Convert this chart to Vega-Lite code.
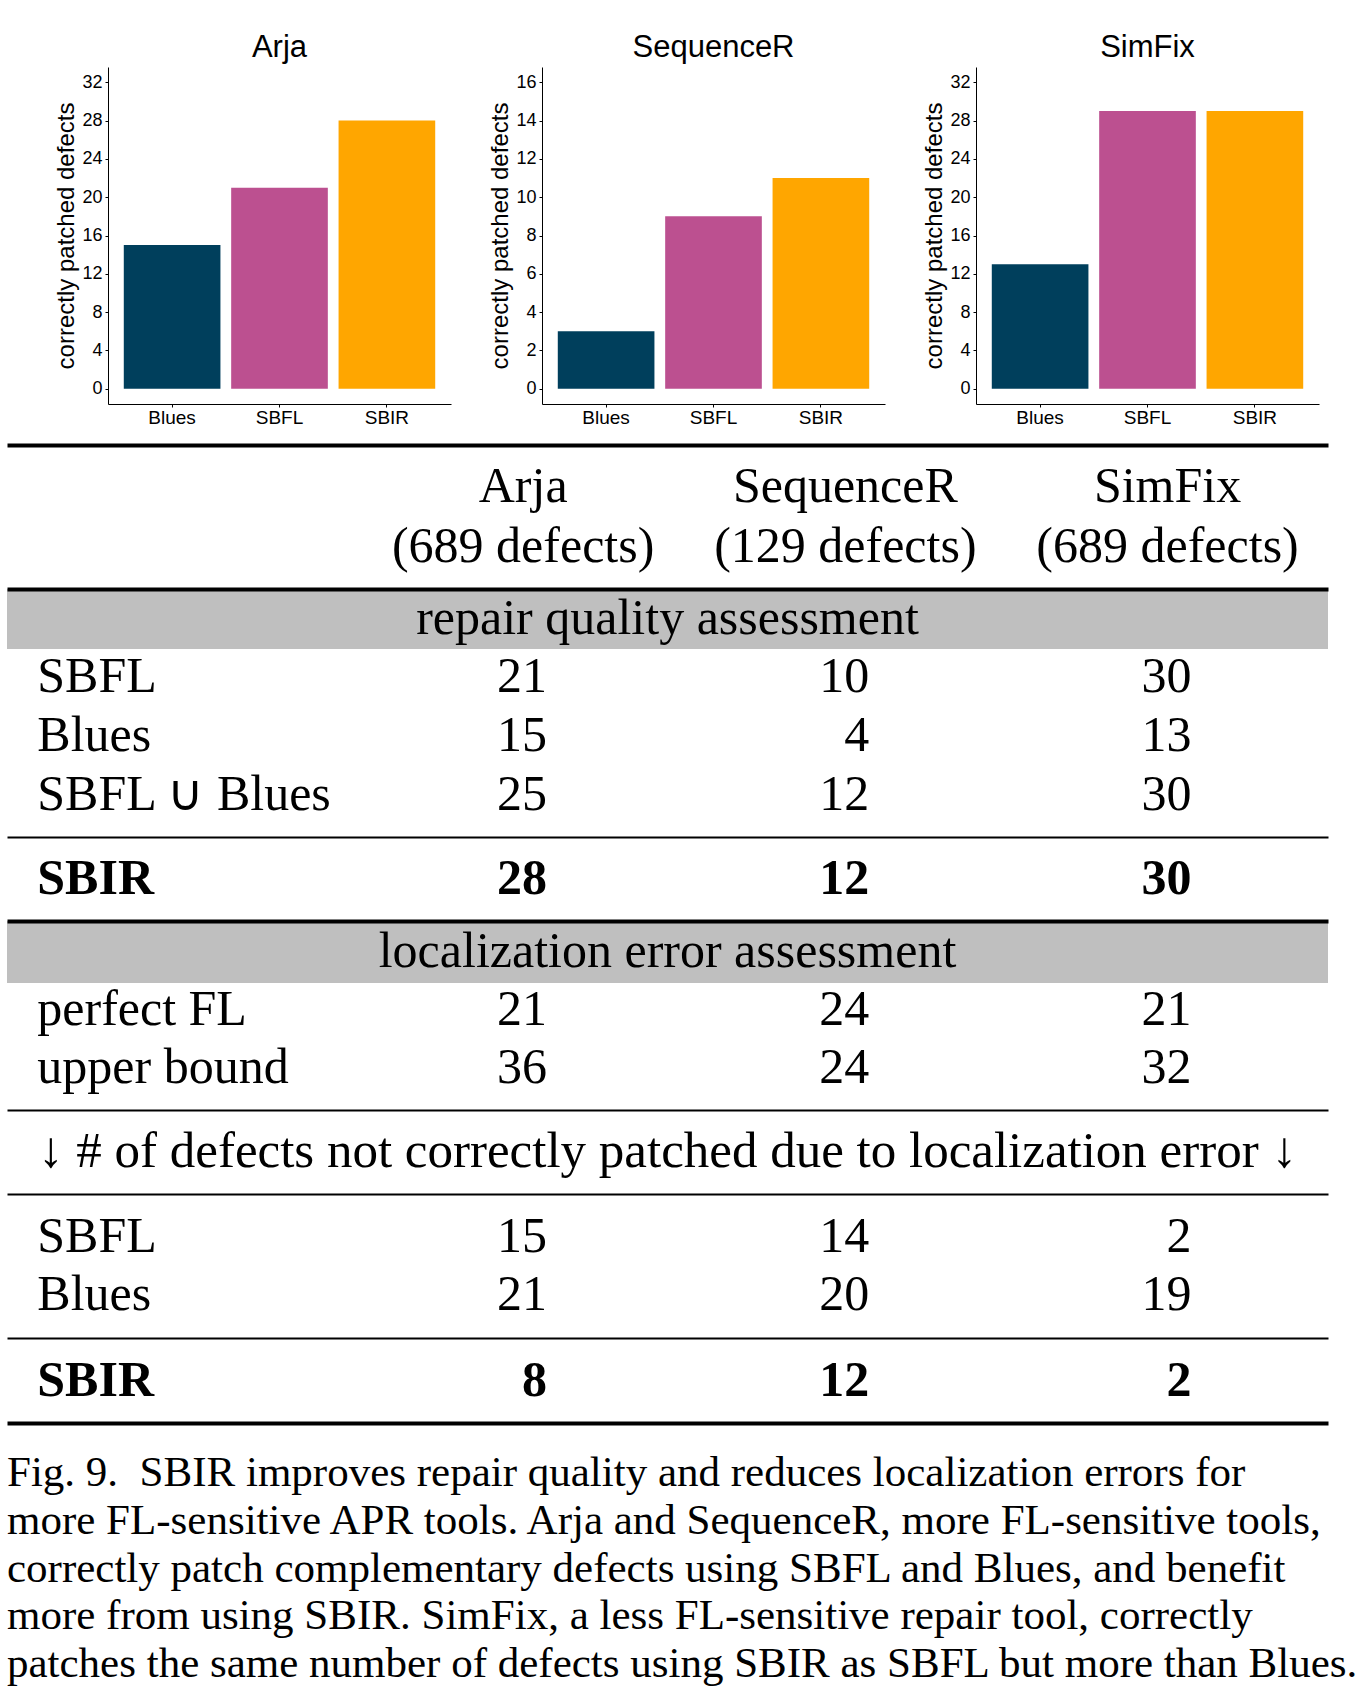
{
  "$schema": "https://vega.github.io/schema/vega-lite/v6.json",
  "background": "white",
  "padding": {"left": 7, "top": 31, "right": 0, "bottom": 0},
  "spacing": 18,
  "config": {
    "view": {"stroke": null},
    "font": "Liberation Sans",
    "axis": {
      "domainColor": "black", "domainWidth": 1, "tickColor": "black", "tickSize": 3, "tickWidth": 1,
      "labelColor": "black", "labelFont": "Liberation Sans", "labelFontSize": 18, "labelPadding": 3,
      "titleFont": "Liberation Sans", "titleFontSize": 24, "titleFontWeight": "normal", "titleColor": "black",
      "titlePadding": 3, "grid": false
    },
    "axisX": {"labelPadding": 1, "labelFontSize": 19}
  },
  "datasets": {
    "bars": [
      {"tool": "Arja", "fl": "Blues", "n": 15}, {"tool": "Arja", "fl": "SBFL", "n": 21}, {"tool": "Arja", "fl": "SBIR", "n": 28},
      {"tool": "SequenceR", "fl": "Blues", "n": 3}, {"tool": "SequenceR", "fl": "SBFL", "n": 9}, {"tool": "SequenceR", "fl": "SBIR", "n": 11},
      {"tool": "SimFix", "fl": "Blues", "n": 13}, {"tool": "SimFix", "fl": "SBFL", "n": 29}, {"tool": "SimFix", "fl": "SBIR", "n": 29}
    ],
    "headers": [
      {"tool": "Arja", "line": "name", "text": "Arja"}, {"tool": "Arja", "line": "size", "text": "(689 defects)"},
      {"tool": "SequenceR", "line": "name", "text": "SequenceR"}, {"tool": "SequenceR", "line": "size", "text": "(129 defects)"},
      {"tool": "SimFix", "line": "name", "text": "SimFix"}, {"tool": "SimFix", "line": "size", "text": "(689 defects)"}
    ],
    "sections": [
      {"sec": "repair", "title": "repair quality assessment"},
      {"sec": "loc", "title": "localization error assessment"},
      {"sec": "loss", "title": "\u2193 # of defects not correctly patched due to localization error \u2193"}
    ],
    "table": [
      {"sec": "repair", "row": "SBFL", "Arja": 21, "SequenceR": 10, "SimFix": 30},
      {"sec": "repair", "row": "Blues", "Arja": 15, "SequenceR": 4, "SimFix": 13},
      {"sec": "repair", "row": "SBFL \u222a Blues", "Arja": 25, "SequenceR": 12, "SimFix": 30},
      {"sec": "repair-best", "row": "SBIR", "Arja": 28, "SequenceR": 12, "SimFix": 30},
      {"sec": "loc", "row": "perfect FL", "Arja": 21, "SequenceR": 24, "SimFix": 21},
      {"sec": "loc", "row": "upper bound", "Arja": 36, "SequenceR": 24, "SimFix": 32},
      {"sec": "loss", "row": "SBFL", "Arja": 15, "SequenceR": 14, "SimFix": 2},
      {"sec": "loss", "row": "Blues", "Arja": 21, "SequenceR": 20, "SimFix": 19},
      {"sec": "loss-best", "row": "SBIR", "Arja": 8, "SequenceR": 12, "SimFix": 2}
    ],
    "caption": [
      {"line": 1, "text": "Fig. 9.\u00a0 SBIR improves repair quality and reduces localization errors for"},
      {"line": 2, "text": "more FL-sensitive APR tools. Arja and SequenceR, more FL-sensitive tools,"},
      {"line": 3, "text": "correctly patch complementary defects using SBFL and Blues, and benefit"},
      {"line": 4, "text": "more from using SBIR. SimFix, a less FL-sensitive repair tool, correctly"},
      {"line": 5, "text": "patches the same number of defects using SBIR as SBFL but more than Blues."}
    ]
  },
  "vconcat": [
    {
      "bounds": "flush",
      "spacing": 91,
      "hconcat": [
        {
          "width": 10, "height": 337,
          "data": {"values": [{}]},
          "mark": {"type": "text"},
          "encoding": {"text": {"value": ""}}
        },
        {
          "width": 343, "height": 337,
          "title": {"text": "Arja", "frame": "group", "anchor": "middle", "offset": -20.5, "baseline": "alphabetic", "fontSize": 31, "fontWeight": "normal", "font": "Liberation Sans", "color": "black"},
          "data": {"name": "bars"},
          "transform": [{"filter": "datum.tool == 'Arja'"}],
          "mark": {"type": "bar"},
          "encoding": {
            "x": {"field": "fl", "type": "nominal", "scale": {"type": "band", "domain": ["Blues", "SBFL", "SBIR"], "paddingInner": 0.1, "paddingOuter": 0.147}, "axis": {"title": null, "labelAngle": 0}},
            "y": {"field": "n", "type": "quantitative", "scale": {"domain": [-1.6, 33.6], "nice": false, "zero": false}, "axis": {"values": [0, 4, 8, 12, 16, 20, 24, 28, 32], "title": "correctly patched defects"}},
            "y2": {"datum": 0},
            "color": {"field": "fl", "type": "nominal", "scale": {"domain": ["Blues", "SBFL", "SBIR"], "range": ["#003f5c", "#bc5090", "#ffa600"]}, "legend": null}
          }
        },
        {
          "width": 343, "height": 337,
          "title": {"text": "SequenceR", "frame": "group", "anchor": "middle", "offset": -20.5, "baseline": "alphabetic", "fontSize": 31, "fontWeight": "normal", "font": "Liberation Sans", "color": "black"},
          "data": {"name": "bars"},
          "transform": [{"filter": "datum.tool == 'SequenceR'"}],
          "mark": {"type": "bar"},
          "encoding": {
            "x": {"field": "fl", "type": "nominal", "scale": {"type": "band", "domain": ["Blues", "SBFL", "SBIR"], "paddingInner": 0.1, "paddingOuter": 0.147}, "axis": {"title": null, "labelAngle": 0}},
            "y": {"field": "n", "type": "quantitative", "scale": {"domain": [-0.8, 16.8], "nice": false, "zero": false}, "axis": {"values": [0, 2, 4, 6, 8, 10, 12, 14, 16], "title": "correctly patched defects"}},
            "y2": {"datum": 0},
            "color": {"field": "fl", "type": "nominal", "scale": {"domain": ["Blues", "SBFL", "SBIR"], "range": ["#003f5c", "#bc5090", "#ffa600"]}, "legend": null}
          }
        },
        {
          "width": 343, "height": 337,
          "title": {"text": "SimFix", "frame": "group", "anchor": "middle", "offset": -20.5, "baseline": "alphabetic", "fontSize": 31, "fontWeight": "normal", "font": "Liberation Sans", "color": "black"},
          "data": {"name": "bars"},
          "transform": [{"filter": "datum.tool == 'SimFix'"}],
          "mark": {"type": "bar"},
          "encoding": {
            "x": {"field": "fl", "type": "nominal", "scale": {"type": "band", "domain": ["Blues", "SBFL", "SBIR"], "paddingInner": 0.1, "paddingOuter": 0.147}, "axis": {"title": null, "labelAngle": 0}},
            "y": {"field": "n", "type": "quantitative", "scale": {"domain": [-1.6, 33.6], "nice": false, "zero": false}, "axis": {"values": [0, 4, 8, 12, 16, 20, 24, 28, 32], "title": "correctly patched defects"}},
            "y2": {"datum": 0},
            "color": {"field": "fl", "type": "nominal", "scale": {"domain": ["Blues", "SBFL", "SBIR"], "range": ["#003f5c", "#bc5090", "#ffa600"]}, "legend": null}
          }
        }
      ]
    },
    {
      "bounds": "flush",
      "spacing": 0,
      "vconcat": [
        {
          "width": 1321, "height": 144,
          "data": {"name": "headers"},
          "mark": {"type": "text", "font": "Liberation Serif", "fontSize": 50, "baseline": "middle", "align": "center", "color": "black"},
          "encoding": {
            "x": {"field": "tool", "type": "nominal", "bandPosition": 0.508,
                  "scale": {"type": "band", "domain": ["label", "Arja", "SequenceR", "SimFix"], "paddingInner": 0, "paddingOuter": 0.05, "align": 0.94},
                  "axis": {"orient": "top", "domain": true, "domainWidth": 4, "domainColor": "black", "ticks": false, "labels": false, "grid": false, "title": null}},
            "y": {"field": "line", "type": "nominal", "scale": {"type": "point", "domain": ["name", "size"], "padding": 0.72, "align": 0.5}, "axis": null},
            "text": {"field": "text"}
          }
        },
        {
          "width": 1321, "height": 60,
          "view": {"fill": "#bfbfbf"},
          "data": {"name": "sections"},
          "transform": [{"filter": "datum.sec == 'repair'"}],
          "mark": {"type": "text", "font": "Liberation Serif", "fontSize": 50, "baseline": "middle", "align": "center", "color": "black"},
          "encoding": {
            "x": {"field": "sec", "type": "nominal", "scale": {"type": "point", "align": 0.5},
                  "axis": {"orient": "top", "domain": true, "domainWidth": 4, "domainColor": "black", "ticks": false, "labels": false, "grid": false, "title": null}},
            "text": {"field": "title"}
          }
        },
        {
          "width": 1321, "height": 188,
          "data": {"name": "table"},
          "transform": [{"filter": "datum.sec == 'repair'"}],
          "encoding": {
            "y": {"field": "row", "type": "nominal", "scale": {"type": "point", "domain": ["SBFL", "Blues", "SBFL \u222a Blues"], "padding": 0.593, "align": 0.4}, "axis": null}
          },
          "layer": [
            {
              "mark": {"type": "text", "font": "Liberation Serif", "fontSize": 50, "baseline": "middle", "align": "left", "color": "black"},
              "encoding": {
                "x": {"datum": "label", "type": "nominal", "bandPosition": 0,
                      "scale": {"type": "band", "domain": ["label", "Arja", "SequenceR", "SimFix"], "paddingInner": 0, "paddingOuter": 0.05, "align": 0.94},
                      "axis": {"orient": "bottom", "domain": true, "domainWidth": 2, "domainColor": "black", "ticks": false, "labels": false, "grid": false, "title": null}},
                "text": {"field": "row"}
              }
            },
            {
              "transform": [{"fold": ["Arja", "SequenceR", "SimFix"], "as": ["tool", "n"]}],
              "mark": {"type": "text", "font": "Liberation Serif", "fontSize": 50, "baseline": "middle", "align": "right", "color": "black"},
              "encoding": {
                "x": {"field": "tool", "type": "nominal", "bandPosition": 0.582,
                      "scale": {"type": "band", "domain": ["label", "Arja", "SequenceR", "SimFix"], "paddingInner": 0, "paddingOuter": 0.05, "align": 0.94},
                      "axis": {"orient": "bottom", "domain": true, "domainWidth": 2, "domainColor": "black", "ticks": false, "labels": false, "grid": false, "title": null}},
                "text": {"field": "n"}
              }
            }
          ]
        },
        {
          "width": 1321, "height": 84,
          "data": {"name": "table"},
          "transform": [{"filter": "datum.sec == 'repair-best'"}],
          "layer": [
            {
              "mark": {"type": "text", "font": "Liberation Serif", "fontSize": 50, "fontWeight": "bold", "baseline": "middle", "align": "left", "color": "black"},
              "encoding": {
                "x": {"datum": "label", "type": "nominal", "bandPosition": 0,
                      "scale": {"type": "band", "domain": ["label", "Arja", "SequenceR", "SimFix"], "paddingInner": 0, "paddingOuter": 0.05, "align": 0.94},
                      "axis": null},
                "text": {"field": "row"}
              }
            },
            {
              "transform": [{"fold": ["Arja", "SequenceR", "SimFix"], "as": ["tool", "n"]}],
              "mark": {"type": "text", "font": "Liberation Serif", "fontSize": 50, "fontWeight": "bold", "baseline": "middle", "align": "right", "color": "black"},
              "encoding": {
                "x": {"field": "tool", "type": "nominal", "bandPosition": 0.582,
                      "scale": {"type": "band", "domain": ["label", "Arja", "SequenceR", "SimFix"], "paddingInner": 0, "paddingOuter": 0.05, "align": 0.94},
                      "axis": null},
                "text": {"field": "n"}
              }
            }
          ]
        },
        {
          "width": 1321, "height": 62,
          "view": {"fill": "#bfbfbf"},
          "data": {"name": "sections"},
          "transform": [{"filter": "datum.sec == 'loc'"}],
          "mark": {"type": "text", "font": "Liberation Serif", "fontSize": 50, "baseline": "middle", "align": "center", "color": "black"},
          "encoding": {
            "x": {"field": "sec", "type": "nominal", "scale": {"type": "point", "align": 0.5},
                  "axis": {"orient": "top", "domain": true, "domainWidth": 4, "domainColor": "black", "ticks": false, "labels": false, "grid": false, "title": null}},
            "text": {"field": "title"}
          }
        },
        {
          "width": 1321, "height": 127,
          "data": {"name": "table"},
          "transform": [{"filter": "datum.sec == 'loc'"}],
          "encoding": {
            "y": {"field": "row", "type": "nominal", "scale": {"type": "point", "domain": ["perfect FL", "upper bound"], "padding": 0.584, "align": 0.39}, "axis": null}
          },
          "layer": [
            {
              "mark": {"type": "text", "font": "Liberation Serif", "fontSize": 50, "baseline": "middle", "align": "left", "color": "black"},
              "encoding": {
                "x": {"datum": "label", "type": "nominal", "bandPosition": 0,
                      "scale": {"type": "band", "domain": ["label", "Arja", "SequenceR", "SimFix"], "paddingInner": 0, "paddingOuter": 0.05, "align": 0.94},
                      "axis": {"orient": "bottom", "domain": true, "domainWidth": 2, "domainColor": "black", "ticks": false, "labels": false, "grid": false, "title": null}},
                "text": {"field": "row"}
              }
            },
            {
              "transform": [{"fold": ["Arja", "SequenceR", "SimFix"], "as": ["tool", "n"]}],
              "mark": {"type": "text", "font": "Liberation Serif", "fontSize": 50, "baseline": "middle", "align": "right", "color": "black"},
              "encoding": {
                "x": {"field": "tool", "type": "nominal", "bandPosition": 0.582,
                      "scale": {"type": "band", "domain": ["label", "Arja", "SequenceR", "SimFix"], "paddingInner": 0, "paddingOuter": 0.05, "align": 0.94},
                      "axis": {"orient": "bottom", "domain": true, "domainWidth": 2, "domainColor": "black", "ticks": false, "labels": false, "grid": false, "title": null}},
                "text": {"field": "n"}
              }
            }
          ]
        },
        {
          "width": 1321, "height": 84,
          "data": {"name": "sections"},
          "transform": [{"filter": "datum.sec == 'loss'"}],
          "mark": {"type": "text", "font": "Liberation Serif", "fontSize": 51, "baseline": "middle", "align": "center", "color": "black"},
          "encoding": {
            "x": {"field": "sec", "type": "nominal", "scale": {"type": "point", "align": 0.5},
                  "axis": {"orient": "bottom", "domain": true, "domainWidth": 2, "domainColor": "black", "ticks": false, "labels": false, "grid": false, "title": null}},
            "text": {"field": "title"}
          }
        },
        {
          "width": 1321, "height": 144,
          "data": {"name": "table"},
          "transform": [{"filter": "datum.sec == 'loss'"}],
          "encoding": {
            "y": {"field": "row", "type": "nominal", "scale": {"type": "point", "domain": ["SBFL", "Blues"], "padding": 0.73, "align": 0.5}, "axis": null}
          },
          "layer": [
            {
              "mark": {"type": "text", "font": "Liberation Serif", "fontSize": 50, "baseline": "middle", "align": "left", "color": "black"},
              "encoding": {
                "x": {"datum": "label", "type": "nominal", "bandPosition": 0,
                      "scale": {"type": "band", "domain": ["label", "Arja", "SequenceR", "SimFix"], "paddingInner": 0, "paddingOuter": 0.05, "align": 0.94},
                      "axis": {"orient": "bottom", "domain": true, "domainWidth": 2, "domainColor": "black", "ticks": false, "labels": false, "grid": false, "title": null}},
                "text": {"field": "row"}
              }
            },
            {
              "transform": [{"fold": ["Arja", "SequenceR", "SimFix"], "as": ["tool", "n"]}],
              "mark": {"type": "text", "font": "Liberation Serif", "fontSize": 50, "baseline": "middle", "align": "right", "color": "black"},
              "encoding": {
                "x": {"field": "tool", "type": "nominal", "bandPosition": 0.582,
                      "scale": {"type": "band", "domain": ["label", "Arja", "SequenceR", "SimFix"], "paddingInner": 0, "paddingOuter": 0.05, "align": 0.94},
                      "axis": {"orient": "bottom", "domain": true, "domainWidth": 2, "domainColor": "black", "ticks": false, "labels": false, "grid": false, "title": null}},
                "text": {"field": "n"}
              }
            }
          ]
        },
        {
          "width": 1321, "height": 85,
          "data": {"name": "table"},
          "transform": [{"filter": "datum.sec == 'loss-best'"}],
          "layer": [
            {
              "mark": {"type": "text", "font": "Liberation Serif", "fontSize": 50, "fontWeight": "bold", "baseline": "middle", "align": "left", "color": "black"},
              "encoding": {
                "x": {"datum": "label", "type": "nominal", "bandPosition": 0,
                      "scale": {"type": "band", "domain": ["label", "Arja", "SequenceR", "SimFix"], "paddingInner": 0, "paddingOuter": 0.05, "align": 0.94},
                      "axis": {"orient": "bottom", "domain": true, "domainWidth": 4, "domainColor": "black", "ticks": false, "labels": false, "grid": false, "title": null}},
                "text": {"field": "row"}
              }
            },
            {
              "transform": [{"fold": ["Arja", "SequenceR", "SimFix"], "as": ["tool", "n"]}],
              "mark": {"type": "text", "font": "Liberation Serif", "fontSize": 50, "fontWeight": "bold", "baseline": "middle", "align": "right", "color": "black"},
              "encoding": {
                "x": {"field": "tool", "type": "nominal", "bandPosition": 0.582,
                      "scale": {"type": "band", "domain": ["label", "Arja", "SequenceR", "SimFix"], "paddingInner": 0, "paddingOuter": 0.05, "align": 0.94},
                      "axis": {"orient": "bottom", "domain": true, "domainWidth": 4, "domainColor": "black", "ticks": false, "labels": false, "grid": false, "title": null}},
                "text": {"field": "n"}
              }
            }
          ]
        },
        {
          "width": 1321, "height": 278,
          "data": {"name": "caption"},
          "mark": {"type": "text", "font": "Liberation Serif", "fontSize": 43, "baseline": "middle", "align": "left", "color": "black"},
          "encoding": {
            "x": {"datum": "caption", "type": "nominal", "scale": {"type": "point", "domain": ["caption"], "align": 0}, "axis": null},
            "y": {"field": "line", "type": "ordinal", "scale": {"type": "point", "domain": [1, 2, 3, 4, 5], "padding": 0.911, "align": 0.575}, "axis": null},
            "text": {"field": "text"}
          }
        }
      ]
    }
  ]
}
